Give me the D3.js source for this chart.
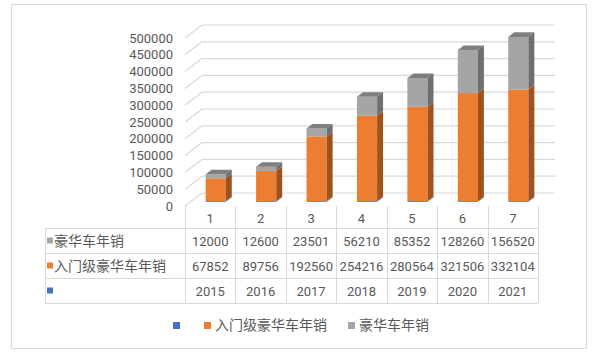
<!DOCTYPE html>
<html>
<head>
<meta charset="utf-8">
<script src="https://cdn.jsdelivr.net/npm/d3@7"></script>
<style>
  body { margin: 0; background: #fff; }
  svg { display: block; }
  text { font-family: Roboto, "Liberation Sans", "Noto Sans CJK SC", sans-serif; fill: #595959; }
  .cjk { font-family: "Noto Sans CJK SC", sans-serif; }
</style>
</head>
<body>
<svg id="chart" width="601" height="352"></svg>
<script>
// data
const categories = ["1", "2", "3", "4", "5", "6", "7"];
const years = [2015, 2016, 2017, 2018, 2019, 2020, 2021];
const entrySales = [67852, 89756, 192560, 254216, 280564, 321506, 332104];
const luxurySales = [12000, 12600, 23501, 56210, 85352, 128260, 156520];
const yTicks = [0, 50000, 100000, 150000, 200000, 250000, 300000, 350000, 400000, 450000, 500000];

const seriesNames = ["", "入门级豪华车年销", "豪华车年销"];
const seriesColors = ["#4472C4", "#ED7D31", "#A5A5A5"];
const sideColors = ["#2F5597", "#A0521E", "#6F6F6F"];
const topColors = ["#5B84CC", "#F08C4A", "#7F7F7F"];

function drawChart() {
  const svg = d3.select("#chart");

  // chart frame
  svg.append("rect")
    .attr("x", 11.5).attr("y", 4.5)
    .attr("width", 575).attr("height", 344)
    .attr("fill", "#fff").attr("stroke", "#D9D9D9");

  // depth of the 3d box
  const depthX = 17, depthY = -13;

  const x = d3.scaleBand()
    .domain(categories)
    .range([185, 538]);

  const y = d3.scaleLinear()
    .domain([0, 500000])
    .range([206, 38]);

  // stacked values: blue (years) at bottom, then entry, then luxury
  const rows = categories.map((c, i) => ({ cat: c, s0: years[i], s1: entrySales[i], s2: luxurySales[i] }));
  const stack = d3.stack().keys(["s0", "s1", "s2"])(rows);

  const grid = svg.append("g");
  // back wall grid lines
  grid.selectAll(".back")
    .data(yTicks)
    .enter().append("line")
    .attr("x1", 185 + depthX).attr("x2", 538 + depthX)
    .attr("y1", d => y(d) + depthY).attr("y2", d => y(d) + depthY)
    .attr("stroke", "#D9D9D9").attr("stroke-width", 1.2);
  // side wall grid lines
  grid.selectAll(".side")
    .data(yTicks)
    .enter().append("line")
    .attr("x1", 185).attr("x2", 185 + depthX)
    .attr("y1", d => y(d)).attr("y2", d => y(d) + depthY)
    .attr("stroke", "#D9D9D9").attr("stroke-width", 1.2);

  // y axis labels
  svg.append("g").selectAll("text")
    .data(yTicks)
    .enter().append("text")
    .attr("x", 173)
    .attr("y", d => y(d))
    .attr("dy", "0.35em")
    .attr("text-anchor", "end")
    .style("font-size", "13px")
    .text(d => d);

  // bars
  const barW = x.bandwidth() * 0.4;
  const d0 = 0.325, d1 = 0.675;
  const bars = svg.append("g");

  rows.forEach((r, i) => {
    const bx = x(r.cat) + (x.bandwidth() - barW) / 2 + d0 * depthX;
    const ox = d0 * depthY;
    const sx = (d1 - d0) * depthX, sy = (d1 - d0) * depthY;
    stack.forEach((s, k) => {
      const v0 = s[i][0], v1 = s[i][1];
      const yTop = y(v1) + ox, yBot = y(v0) + ox;
      // front face
      bars.append("rect")
        .attr("x", bx).attr("y", yTop)
        .attr("width", barW).attr("height", Math.max(0.8, yBot - yTop))
        .attr("fill", seriesColors[k]);
      // side face
      bars.append("polygon")
        .attr("points", [
          [bx + barW, yBot], [bx + barW + sx, yBot + sy],
          [bx + barW + sx, yTop + sy], [bx + barW, yTop]
        ].join(" "))
        .attr("fill", sideColors[k]);
      // top face for the top segment
      if (k === stack.length - 1) {
        bars.append("polygon")
          .attr("points", [
            [bx, yTop], [bx + sx, yTop + sy],
            [bx + barW + sx, yTop + sy], [bx + barW, yTop]
          ].join(" "))
          .attr("fill", topColors[k]);
      }
    });
  });

  // data table
  const table = svg.append("g");
  const rowY = [228, 253, 278, 303];
  const left = 45, right = 538;
  rowY.forEach(ry => {
    table.append("line")
      .attr("x1", left).attr("x2", right)
      .attr("y1", ry + 0.5).attr("y2", ry + 0.5)
      .attr("stroke", "#D9D9D9");
  });
  table.append("line")
    .attr("x1", left + 0.5).attr("x2", left + 0.5)
    .attr("y1", 228).attr("y2", 303)
    .attr("stroke", "#D9D9D9");
  const cuts = categories.map(c => x(c)).concat([x.range()[1]]);
  table.selectAll(".vcut")
    .data(cuts)
    .enter().append("line")
    .attr("x1", d => Math.round(d) + 0.5).attr("x2", d => Math.round(d) + 0.5)
    .attr("y1", 206).attr("y2", 303)
    .attr("stroke", "#D9D9D9");

  // category header
  table.selectAll(".cat")
    .data(categories)
    .enter().append("text")
    .attr("x", d => x(d) + x.bandwidth() / 2)
    .attr("y", 218)
    .attr("dy", "0.35em")
    .attr("text-anchor", "middle")
    .style("font-size", "13px")
    .text(d => d);

  // table rows: luxury, entry, blue (years)
  const tableRows = [
    { name: seriesNames[2], color: seriesColors[2], values: luxurySales },
    { name: seriesNames[1], color: seriesColors[1], values: entrySales },
    { name: seriesNames[0], color: seriesColors[0], values: years }
  ];
  tableRows.forEach((tr, j) => {
    const cy = (rowY[j] + rowY[j + 1]) / 2 + 0.5;
    table.append("rect")
      .attr("x", 47).attr("y", cy - 3.5)
      .attr("width", 6).attr("height", 6)
      .attr("fill", tr.color);
    table.append("text")
      .attr("class", "cjk")
      .attr("x", 54).attr("y", cy)
      .attr("dy", "0.35em")
      .style("font-size", "14px")
      .text(tr.name);
    table.selectAll(null)
      .data(tr.values)
      .enter().append("text")
      .attr("x", (d, i) => x(categories[i]) + x.bandwidth() / 2)
      .attr("y", cy)
      .attr("dy", "0.35em")
      .attr("text-anchor", "middle")
      .style("font-size", "13px")
      .text(d => d);
  });

  // legend
  const legend = svg.append("g");
  const legendX = [173, 204, 348];
  seriesNames.forEach((n, k) => {
    legend.append("rect")
      .attr("x", legendX[k]).attr("y", 322)
      .attr("width", 7).attr("height", 7)
      .attr("fill", seriesColors[k]);
    legend.append("text")
      .attr("class", "cjk")
      .attr("x", legendX[k] + 11).attr("y", 325.5)
      .attr("dy", "0.35em")
      .style("font-size", "14px")
      .text(n);
  });
}

drawChart();
</script>
</body>
</html>
